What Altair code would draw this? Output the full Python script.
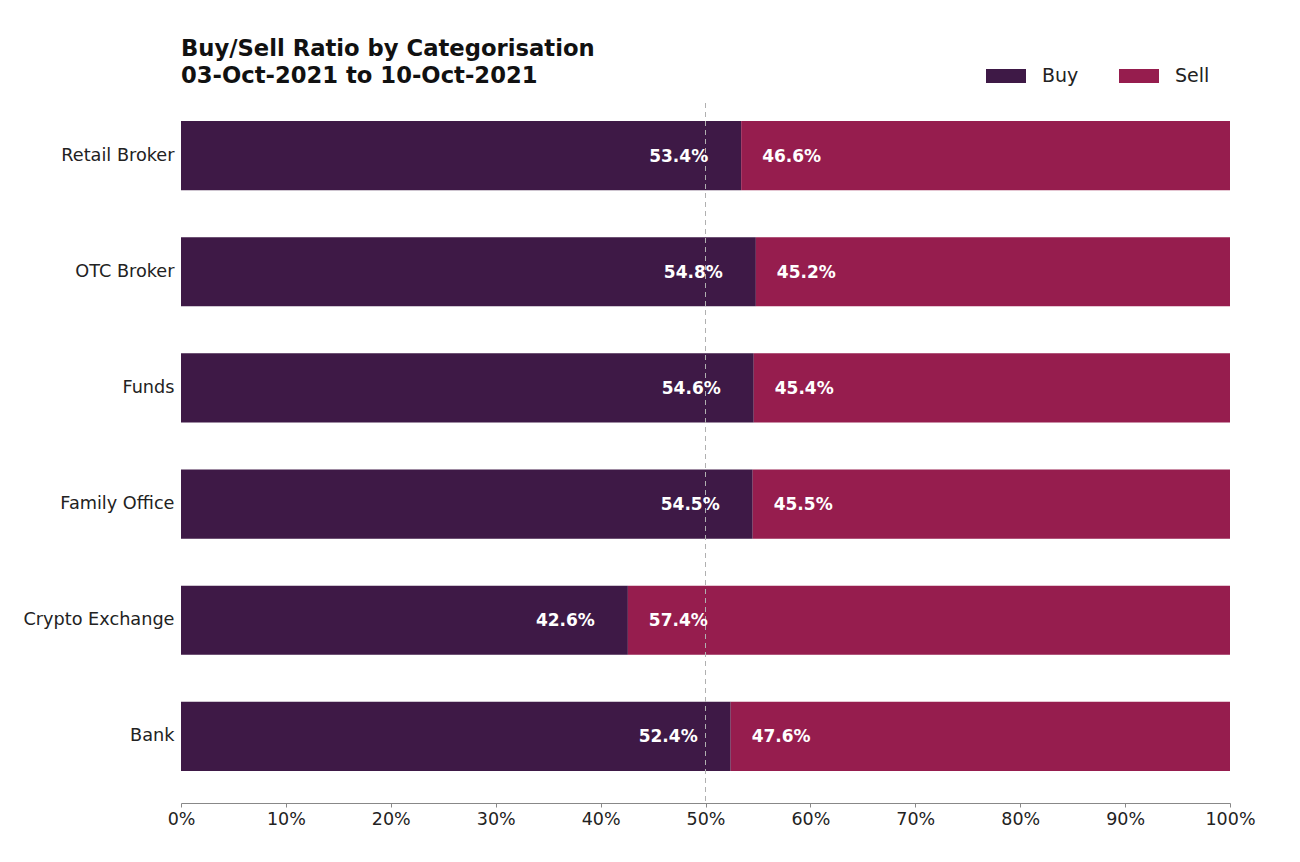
import altair as alt
import pandas as pd

categories = ["Retail Broker", "OTC Broker", "Funds", "Family Office", "Crypto Exchange", "Bank"]
buy = [53.4, 54.8, 54.6, 54.5, 42.6, 52.4]
sell = [46.6, 45.2, 45.4, 45.5, 57.4, 47.6]
series = ["Buy", "Sell"]
colors = ["#3e1946", "#961d4e"]
x_ticks = [0, 10, 20, 30, 40, 50, 60, 70, 80, 90, 100]
ref_value = [50]

long_rows = []
for c, b, s in zip(categories, buy, sell):
    long_rows.append({"category": c, "series": "Buy", "value": b, "ord": 0})
    long_rows.append({"category": c, "series": "Sell", "value": s, "ord": 1})
long_df = pd.DataFrame(long_rows)

wide_df = pd.DataFrame({
    "category": categories,
    "buy": buy,
    "sell": sell,
    "buy_label": [f"{v:.1f}%" for v in buy],
    "sell_label": [f"{v:.1f}%" for v in sell],
})

y_enc = alt.Y(
    "category:N",
    sort=categories,
    scale=alt.Scale(paddingInner=0.405, paddingOuter=0.2155, align=0.36),
    axis=alt.Axis(title=None, domain=False, ticks=False, labelFontSize=17.7,
                  labelPadding=7, labelColor="#222222"),
)
x_scale = alt.Scale(domain=[0, 100], nice=False)

bars = alt.Chart(long_df).mark_bar().encode(
    x=alt.X("value:Q", stack="zero", scale=x_scale,
            axis=alt.Axis(title=None, values=x_ticks, labelExpr="datum.value + '%'",
                          grid=False, domainColor="#888888", tickColor="#888888",
                          tickSize=4, labelFontSize=17.5, labelPadding=3,
                          labelFlush=False, labelColor="#222222")),
    y=y_enc,
    color=alt.Color("series:N", scale=alt.Scale(domain=series, range=colors),
                    legend=alt.Legend(orient="none", legendX=805, legendY=-47,
                                      direction="horizontal", title=None,
                                      symbolType="M-1,-0.35H1V0.35H-1Z",
                                      symbolSize=1600, labelFontSize=19,
                                      labelOffset=16, columnPadding=40,
                                      symbolStrokeWidth=0, labelColor="#222222")),
    order=alt.Order("ord:Q"),
)

rule = alt.Chart(pd.DataFrame({"x": ref_value})).mark_rule(
    strokeDash=[5, 4], color="#b0b0b0", strokeWidth=1
).encode(x=alt.X("x:Q", scale=x_scale))

buy_text = alt.Chart(wide_df).mark_text(
    align="right", baseline="middle", dx=-33, dy=1, fontSize=17, fontWeight="bold", color="white"
).encode(x=alt.X("buy:Q", scale=x_scale), y=alt.Y("category:N", sort=categories), text="buy_label:N")

sell_text = alt.Chart(wide_df).mark_text(
    align="left", baseline="middle", dx=21, dy=1, fontSize=17, fontWeight="bold", color="white"
).encode(x=alt.X("buy:Q", scale=x_scale), y=alt.Y("category:N", sort=categories), text="sell_label:N")

chart = alt.layer(bars, rule, buy_text, sell_text).properties(
    width=1049,
    height=700,
    title=alt.Title(["Buy/Sell Ratio by Categorisation", "03-Oct-2021 to 10-Oct-2021"],
                    anchor="start", frame="group", fontSize=22.7, fontWeight="bold",
                    lineHeight=27, offset=14, dy=46, color="#111111"),
    autosize=alt.AutoSizeParams(type="none"),
    padding={"left": 173, "top": 95, "right": 40, "bottom": 40},
).configure(font="DejaVu Sans").configure_view(stroke=None)

chart.save("out.html", embed_options={"renderer": "svg", "actions": False})
